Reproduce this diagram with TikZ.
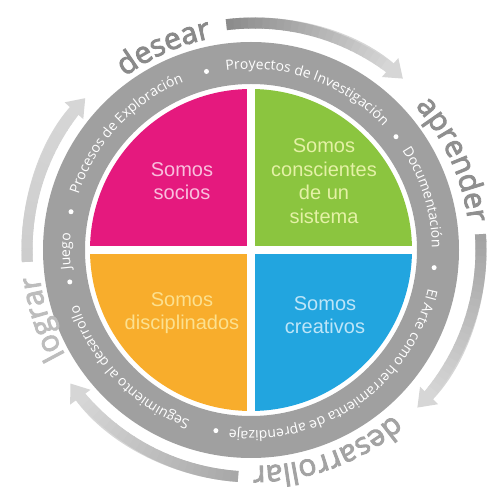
\documentclass[tikz,border=0pt]{standalone}
\usepackage{fontspec}
\setmainfont{Liberation Sans}
\newfontfamily\cyclefont{Open Sans}
\newfontfamily\cyclelabelfont{Open Sans}[FakeBold=3]
\usetikzlibrary{arrows.meta,decorations.text}

\definecolor{ringgrey}{HTML}{A0A0A0}
\definecolor{socioscol}{HTML}{E5197E}
\definecolor{sociostxt}{HTML}{F9BEDD}
\definecolor{sistemacol}{HTML}{8BC53F}
\definecolor{sistematxt}{HTML}{E4F1A6}
\definecolor{discicol}{HTML}{F8AD2C}
\definecolor{discitxt}{HTML}{FCE08F}
\definecolor{creacol}{HTML}{22A5DF}
\definecolor{creatxt}{HTML}{BDE5F8}
\definecolor{arrowend}{HTML}{D6D6D6}
\definecolor{arrowA}{HTML}{8C8C8C}
\definecolor{arrowB}{HTML}{A3A3A3}
\definecolor{arrowC}{HTML}{A8A8A8}
\definecolor{arrowD}{HTML}{CDCDCD}
\definecolor{labelA}{HTML}{8A8A8A}
\definecolor{labelB}{HTML}{8F8F8F}
\definecolor{labelC}{HTML}{A3A3A3}
\definecolor{labelD}{HTML}{BDBDBD}

\newcommand{\ringfont}{\cyclefont\fontsize{14}{14}\selectfont\color{white}}

% white text on the grey ring, clockwise from #1 to #2
\newcommand{\ringtext}[3]{%
	\path[decorate,decoration={text along path,text align=center,
		text={|\ringfont|#3}}] (#1:181) arc[start angle=#1,end angle=#2,radius=181];}

% outer grey words
\newcommand{\cyclelabel}[4]{%
	\path[decorate,decoration={text along path,text align=center,
		text={|\cyclelabelfont\fontsize{30}{30}\selectfont\color{#3}|#4}}]
		(#1:216) arc[start angle=#1,end angle=#2,radius=216];}

% shaded arrow: from, to, start colour, end colour
\newcommand{\cyclearrow}[4]{%
	\draw[arrowband,#4,-{Triangle[width=24pt,length=17pt]}] (#1:227) arc[start angle=#1,end angle=#2,radius=227];
	\foreach \k in {0,...,23}{
		\pgfmathsetmacro{\segA}{(#1)-((#1)-(#2)-4.3)*\k/24}
		\pgfmathsetmacro{\segB}{(#1)-((#1)-(#2)-4.3)*(\k+1.1)/24}
		\pgfmathtruncatemacro{\pc}{100*\k/23}
		\draw[arrowband,#4!\pc!#3] (\segA:227) arc[start angle=\segA,end angle=\segB,radius=227];
	}}

\begin{document}
\begin{tikzpicture}
	[x=1pt,y=1pt,
	quarter/.style={font=\fontsize{20}{23.5}\selectfont,align=center},
	dot/.style={circle,fill=white,inner sep=0pt,minimum size=5pt},
	arrowband/.style={line width=11pt}]
	
	\useasboundingbox (-251,-247) rectangle (239,250);
	
	% grey ring
	\fill[ringgrey,even odd rule] (0,0) circle (208) (0,0) circle (166);
	
	% the four quarters
	\begin{scope}
		\clip (0,0) circle (161);
		\fill[socioscol] (-4,4) rectangle (-170,170);
		\fill[sistemacol] (4,4) rectangle (170,170);
		\fill[discicol] (-4,-4) rectangle (-170,-170);
		\fill[creacol] (4,-4) rectangle (170,-170);
	\end{scope}
	
	\node [quarter,text=sociostxt] (socios) at (-69,69) {Somos\\socios};
	\node [quarter,text=sistematxt] (sistema) at (73,69) {Somos\\conscientes\\de un\\sistema};
	\node [quarter,text=discitxt] (disciplinados) at (-69,-63) {Somos\\disciplinados};
	\node [quarter,text=creatxt] (creativos) at (74,-65) {Somos\\creativos};
	
	% ring texts and dots
	\ringtext{166}{108}{Procesos de Exploración}
	\ringtext{101}{40}{Proyectos de Investigación}
	\ringtext{36}{-2}{Documentación}
	\ringtext{-8}{-101}{El Arte como herramienta de aprendizaje}
	\ringtext{-104}{-168}{Seguimiento al desarrollo}
	\ringtext{191}{170}{Juego}
	
	\foreach \a [count=\i] in {168,104,38,-5.5,-101,190}
		\node [dot] (dot\i) at (\a:184) {};
	
	% outer cycle
	\begin{scope}[xshift=3pt]
		\cyclearrow{97}{49}{arrowA}{arrowend}
		\cyclearrow{4}{-44}{arrowB}{arrowend}
		\cyclearrow{-94}{-144}{arrowC}{arrowend}
		\cyclearrow{183}{138}{arrowD}{arrowend}
		
		\cyclelabel{144}{84}{labelA}{desear}
		\cyclelabel{55}{-6}{labelB}{aprender}
		\cyclelabel{-35}{-105}{labelC}{desarrollar}
		\cyclelabel{-132}{-192}{labelD}{lograr}
	\end{scope}
\end{tikzpicture}
\end{document}
